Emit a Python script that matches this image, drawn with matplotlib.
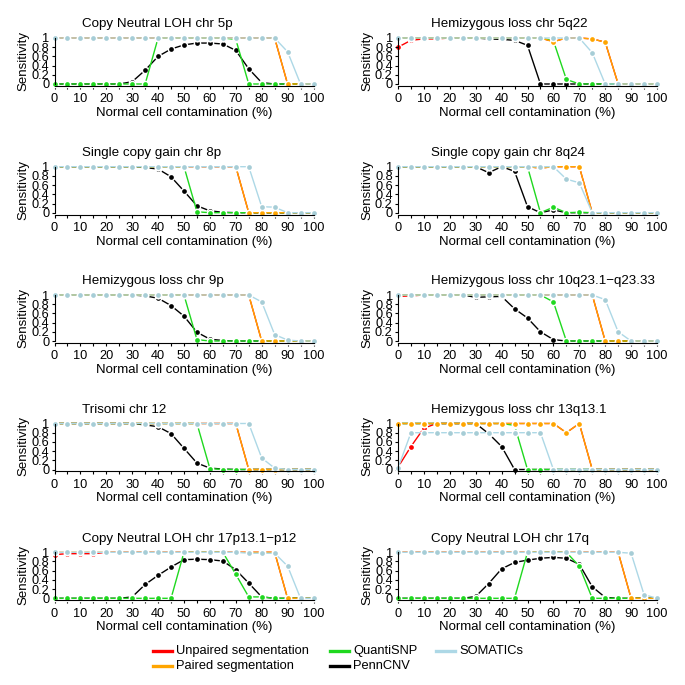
import matplotlib
matplotlib.use('Agg')
import matplotlib.pyplot as plt
from matplotlib.lines import Line2D

plt.rcParams['font.family'] = ['Liberation Sans', 'DejaVu Sans']
plt.rcParams['font.size'] = 9

contamination = [0, 5, 10, 15, 20, 25, 30, 35, 40, 45, 50, 55, 60, 65, 70, 75, 80, 85, 90, 95, 100]

titles = [
    'Copy Neutral LOH chr 5p', 'Hemizygous loss chr 5q22',
    'Single copy gain chr 8p', 'Single copy gain chr 8q24',
    'Hemizygous loss chr 9p', 'Hemizygous loss chr 10q23.1\u2212q23.33',
    'Trisomi chr 12', 'Hemizygous loss chr 13q13.1',
    'Copy Neutral LOH chr 17p13.1\u2212p12', 'Copy Neutral LOH chr 17q',
]

unpaired = [
    [1, 1, 1, 1, 1, 1, 1, 1, 1, 1, 1, 1, 1, 1, 1, 1, 1, 1, 0, 0, 0],
    [0.8, 0.95, 0.98, 0.98, 1, 1, 1, 1, 1, 1, 1, 1, 0.92, 1, 1, 0.98, 0.91, 0, 0, 0, 0],
    [1, 1, 1, 1, 1, 1, 1, 1, 1, 1, 1, 1, 1, 1, 1, 0, 0, 0, 0, 0, 0],
    [1, 1, 1, 1, 1, 1, 1, 1, 1, 1, 1, 0.97, 1, 1, 1, 0, 0, 0, 0, 0, 0],
    [1, 1, 1, 1, 1, 1, 1, 1, 1, 1, 1, 1, 1, 1, 1, 1, 0, 0, 0, 0, 0],
    [0.97, 0.98, 1, 1, 1, 1, 1, 1, 1, 1, 1, 1, 1, 1, 1, 1, 0, 0, 0, 0, 0],
    [1, 1, 1, 1, 1, 1, 1, 1, 1, 1, 1, 1, 1, 1, 1, 0, 0, 0, 0, 0, 0],
    [0.05, 0.5, 0.9, 1, 1, 1, 1, 1, 1, 1, 1, 1, 1, 0.8, 1, 0, 0, 0, 0, 0, 0],
    [0.95, 0.97, 0.97, 0.97, 1, 1, 1, 1, 1, 1, 1, 1, 1, 1, 1, 1, 1, 1, 0, 0, 0],
    [1, 1, 1, 1, 1, 1, 1, 1, 1, 1, 1, 1, 1, 1, 1, 1, 1, 1, 0, 0, 0],
]

paired = [
    [1, 1, 1, 1, 1, 1, 1, 1, 1, 1, 1, 1, 1, 1, 1, 1, 1, 1, 0, 0, 0],
    [1, 1, 1, 1, 1, 1, 1, 1, 1, 1, 1, 1, 0.92, 1, 1, 0.98, 0.91, 0, 0, 0, 0],
    [1, 1, 1, 1, 1, 1, 1, 1, 1, 1, 1, 1, 1, 1, 1, 0, 0, 0, 0, 0, 0],
    [1, 1, 1, 1, 1, 1, 1, 1, 1, 1, 1, 0.97, 1, 1, 1, 0, 0, 0, 0, 0, 0],
    [1, 1, 1, 1, 1, 1, 1, 1, 1, 1, 1, 1, 1, 1, 1, 1, 0, 0, 0, 0, 0],
    [1, 1, 1, 1, 1, 1, 1, 1, 1, 1, 1, 1, 1, 1, 1, 1, 0, 0, 0, 0, 0],
    [1, 1, 1, 1, 1, 1, 1, 1, 1, 1, 1, 1, 1, 1, 1, 0, 0, 0, 0, 0, 0],
    [1, 1, 1, 1, 1, 1, 1, 1, 1, 1, 1, 1, 1, 0.8, 1, 0, 0, 0, 0, 0, 0],
    [1, 1, 1, 1, 1, 1, 1, 1, 1, 1, 1, 1, 1, 1, 1, 1, 1, 1, 0, 0, 0],
    [1, 1, 1, 1, 1, 1, 1, 1, 1, 1, 1, 1, 1, 1, 1, 1, 1, 1, 0, 0, 0],
]

quantisnp = [
    [0, 0, 0, 0, 0, 0, 0, 0, 1, 1, 1, 1, 1, 1, 0.97, 0, 0, 0, 0, 0, 0],
    [1, 1, 1, 1, 1, 1, 1, 1, 1, 1, 1, 1, 0.94, 0.1, 0, 0, 0, 0, 0, 0, 0],
    [1, 1, 1, 1, 1, 1, 1, 1, 1, 1, 1, 0.02, 0, 0, 0, 0, 0, 0, 0, 0, 0],
    [1, 1, 1, 1, 1, 1, 1, 1, 1, 1, 1, 0, 0.12, 0, 0.01, 0, 0, 0, 0, 0, 0],
    [1, 1, 1, 1, 1, 1, 1, 1, 1, 1, 1, 0.03, 0, 0, 0, 0, 0, 0, 0, 0, 0],
    [1, 1, 1, 1, 1, 1, 1, 1, 1, 1, 1, 1, 0.85, 0, 0, 0, 0, 0, 0, 0, 0],
    [1, 1, 1, 1, 1, 1, 1, 1, 1, 1, 1, 1, 0.02, 0, 0, 0, 0, 0, 0, 0, 0],
    [1, 1, 1, 1, 1, 1, 1, 1, 1, 0.96, 0, 0, 0, 0, 0, 0, 0, 0, 0, 0, 0],
    [0, 0, 0, 0, 0, 0, 0, 0, 0, 0, 1, 1, 1, 1, 0.52, 0.03, 0.03, 0, 0, 0, 0],
    [0, 0, 0, 0, 0, 0, 0, 0, 0, 0, 1, 1, 1, 1, 0.7, 0, 0, 0, 0, 0, 0],
]

penncnv = [
    [0, 0, 0, 0, 0, 0, 0.05, 0.3, 0.6, 0.76, 0.85, 0.89, 0.89, 0.87, 0.73, 0.33, 0.03, 0, 0, 0, 0],
    [1, 1, 1, 1, 1, 1, 1, 0.98, 0.97, 0.95, 0.84, 0, 0, 0, 0, 0, 0, 0, 0, 0, 0],
    [1, 1, 1, 1, 1, 1, 1, 0.98, 0.95, 0.78, 0.47, 0.15, 0.04, 0.01, 0, 0, 0, 0, 0, 0, 0],
    [1, 1, 1, 1, 1, 1, 1, 0.87, 1, 0.9, 0.13, 0, 0.06, 0, 0, 0, 0, 0, 0, 0, 0],
    [1, 1, 1, 1, 1, 1, 1, 0.98, 0.93, 0.77, 0.54, 0.19, 0.04, 0.01, 0, 0, 0, 0, 0, 0, 0],
    [1, 1, 1, 1, 1, 1, 0.95, 0.96, 0.97, 0.7, 0.5, 0.2, 0.03, 0, 0, 0, 0, 0, 0, 0, 0],
    [1, 1, 1, 1, 1, 1, 1, 0.97, 0.93, 0.78, 0.46, 0.14, 0.03, 0.01, 0, 0, 0, 0, 0, 0, 0],
    [1, 1, 1, 1, 1, 1, 1, 0.78, 0.5, 0, 0, 0, 0, 0, 0, 0, 0, 0, 0, 0, 0],
    [0, 0, 0, 0, 0, 0, 0.03, 0.3, 0.5, 0.68, 0.84, 0.85, 0.84, 0.81, 0.62, 0.33, 0.03, 0, 0, 0, 0],
    [0, 0, 0, 0, 0, 0, 0.04, 0.32, 0.64, 0.78, 0.83, 0.87, 0.89, 0.87, 0.74, 0.25, 0.02, 0, 0, 0, 0],
]

somatics = [
    [1, 1, 1, 1, 1, 1, 1, 1, 1, 1, 1, 1, 1, 1, 1, 1, 1, 1, 0.7, 0, 0],
    [1, 1, 1, 1, 1, 1, 1, 1, 1, 1, 1, 1, 1, 1, 1, 0.68, 0, 0, 0, 0, 0],
    [1, 1, 1, 1, 1, 1, 1, 1, 1, 1, 1, 1, 1, 1, 1, 1, 0.13, 0.12, 0, 0, 0],
    [1, 1, 1, 1, 1, 1, 1, 1, 1, 1, 1, 1, 1, 0.73, 0.65, 0, 0, 0, 0, 0, 0],
    [1, 1, 1, 1, 1, 1, 1, 1, 1, 1, 1, 1, 1, 1, 1, 1, 0.85, 0.14, 0.02, 0, 0],
    [1, 1, 1, 1, 1, 1, 1, 1, 1, 1, 1, 1, 1, 1, 1, 1, 0.9, 0.2, 0, 0, 0],
    [1, 1, 1, 1, 1, 1, 1, 1, 1, 1, 1, 1, 1, 1, 1, 1, 0.25, 0.03, 0, 0, 0],
    [0.03, 0.8, 0.8, 0.8, 0.8, 0.8, 0.8, 0.8, 0.8, 0.8, 0.8, 0.8, 0, 0, 0, 0, 0, 0, 0, 0, 0],
    [1, 1, 1, 1, 1, 1, 1, 1, 1, 1, 1, 1, 1, 1, 1, 0.98, 0.98, 0.98, 0.7, 0, 0],
    [1, 1, 1, 1, 1, 1, 1, 1, 1, 1, 1, 1, 1, 1, 1, 1, 1, 1, 0.98, 0.08, 0],
]

ytick_labels = ['0', '0.2', '0.4', '0.6', '0.8', '1']
labels = ['Unpaired segmentation', 'Paired segmentation', 'QuantiSNP', 'PennCNV', 'SOMATICs']
colors = ['#ff0000', '#ffa500', '#1fd81f', '#000000', '#add8e6']
marker_colors = ['#ff0000', '#ffa500', '#1fd81f', '#000000', '#a6cdd6']
all_series = [unpaired, paired, quantisnp, penncnv, somatics]
draw_order = [0, 3, 2, 1, 4]  # red, black, green, orange, light blue on top

W = H = 685
fig = plt.figure(figsize=(6.85, 6.85), dpi=100)

col_x0 = [54.5, 398.0]      # pixel x of data 0
plot_w = 259.0              # pixels for 0..100
row_y1 = [38.0, 166.7, 295.0, 423.5, 552.3]  # pixel y of sensitivity 1
span = 46.0                 # pixels for 0..1
title_x = [82.0, 431.0]

for i, title in enumerate(titles):
    r, c = divmod(i, 2)
    x0 = col_x0[c]
    y1 = row_y1[r]
    top = y1 - 0.04 * span
    h = 1.08 * span
    ax = fig.add_axes([x0 / W, 1 - (top + h) / H, plot_w / W, h / H])
    ax.set_xlim(0, 100)
    ax.set_ylim(-0.04, 1.04)
    for s in ['top', 'right']:
        ax.spines[s].set_visible(False)
    ax.spines['left'].set_bounds(0, 1)
    ax.spines['bottom'].set_bounds(0, 100)
    for s in ['left', 'bottom']:
        ax.spines[s].set_linewidth(0.8)
    ax.set_xticks(range(0, 101, 10))
    ax.set_xticks(range(5, 100, 10), minor=True)
    ax.set_yticks([0, 0.2, 0.4, 0.6, 0.8, 1])
    ax.set_yticklabels(ytick_labels)
    ax.tick_params(axis='both', which='both', length=2.3, width=0.8, direction='out', labelsize=9.2)
    ax.tick_params(axis='x', pad=3)
    ax.tick_params(axis='y', pad=1.5)

    for k in draw_order:
        y = all_series[k][i]
        z = 1 + 0.25 * draw_order.index(k)
        ax.plot(contamination, y, color=colors[k], lw=1.0, zorder=z, clip_on=False)
        ax.plot(contamination, y, ls='none', marker='o', ms=5.5, mfc='white', mec='none',
                zorder=z + 0.05, clip_on=False)
        ax.plot(contamination, y, ls='none', marker='o', ms=3.4, mfc=marker_colors[k], mec='none',
                zorder=z + 0.1, clip_on=False)

    fig.text(title_x[c] / W, 1 - (y1 - 13.5) / H, title, ha='left', va='center', fontsize=9.6)
    fig.text((x0 + plot_w / 2) / W, 1 - (y1 + span + 29) / H, 'Normal cell contamination (%)',
             ha='center', va='center', fontsize=9.5)
    fig.text((x0 - 31) / W, 1 - (y1 + span / 2) / H, 'Sensitivity', rotation=90,
             ha='center', va='center', fontsize=9.5)

# legend
leg_x = [152.7, 330.0, 436.0]
leg_y = [650.7, 665.7]
leg_pos = [(0, 0), (0, 1), (1, 0), (1, 1), (2, 0)]
for k, (cc, rr) in enumerate(leg_pos):
    xa = leg_x[cc]
    ya = 1 - leg_y[rr] / H
    fig.add_artist(Line2D([xa / W, (xa + 19) / W], [ya, ya], color=colors[k], lw=2.4))
    fig.text((xa + 23) / W, ya, labels[k], ha='left', va='center', fontsize=9.3)

fig.savefig('out.png', dpi=100)
